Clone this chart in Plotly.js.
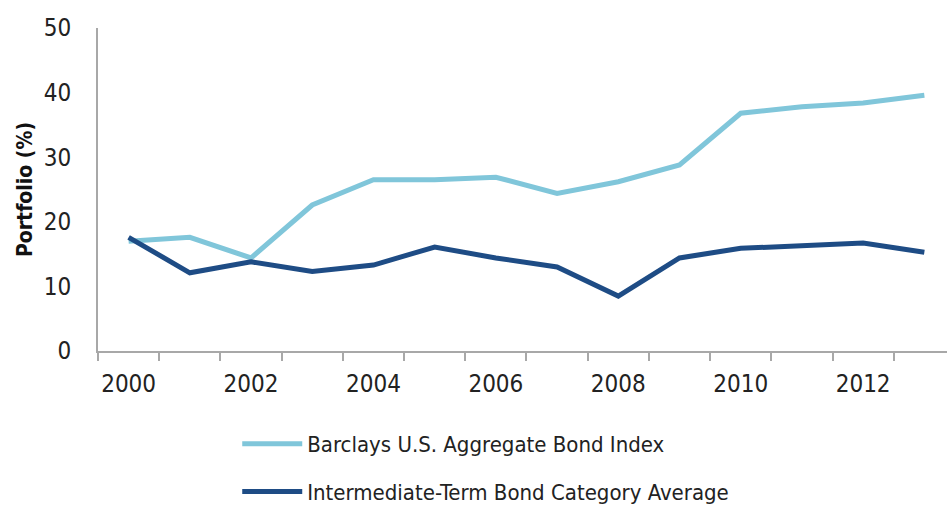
<!DOCTYPE html>
<html>
<head>
<meta charset="utf-8">
<script src="https://cdn.plot.ly/plotly-3.0.1.min.js"></script>
<style>html,body{margin:0;padding:0;background:#fff;}#chart{width:947px;height:506px;}</style>
</head>
<body>
<div id="chart"></div>
<script>
const years = [2000,2001,2002,2003,2004,2005,2006,2007,2008,2009,2010,2011,2012,2013];
const barclays = [17.0,17.6,14.4,22.6,26.5,26.5,26.9,24.4,26.2,28.8,36.8,37.8,38.4,39.6];
const intermediate = [17.6,12.1,13.8,12.3,13.3,16.1,14.4,13.0,8.5,14.4,15.9,16.3,16.7,15.3];
const tickYears = [2000,2002,2004,2006,2008,2010,2012];
const tickLabels = ["2000","2002","2004","2006","2008","2010","2012"];
const seriesNames = ["Barclays U.S. Aggregate Bond Index","Intermediate-Term Bond Category Average"];

const FONT = "'DejaVu Sans Condensed', 'Liberation Sans Narrow', sans-serif";
const traces = [
  {x: years, y: barclays, name: seriesNames[0], type: 'scatter', mode: 'lines',
   line: {color: '#80c6da', width: 5}, legendgroup: 'a'},
  {x: years, y: intermediate, name: seriesNames[1], type: 'scatter', mode: 'lines',
   line: {color: '#1e4c85', width: 5}, legendgroup: 'b'}
];
const layout = {
  width: 947, height: 506,
  margin: {l: 98, r: 0, t: 28, b: 155, autoexpand: false},
  paper_bgcolor: '#fff', plot_bgcolor: '#fff',
  font: {family: FONT, size: 24, color: '#222'},
  showlegend: true,
  legend: {x: 0.164, y: -0.223, xanchor: 'left', yanchor: 'top', orientation: 'v',
           itemwidth: 60, tracegroupgap: 16, font: {family: FONT, size: 22, color: '#222'},
           bgcolor: 'rgba(0,0,0,0)'},
  xaxis: {range: [1999.5, 2013.37], tickmode: 'array', tickvals: tickYears, ticktext: tickLabels,
          ticks: '', showgrid: false, zeroline: false, showline: true, linecolor: '#a8a8a8', linewidth: 2,
          ticklabelstandoff: 10,
          tickfont: {family: FONT, size: 24, color: '#222'},
          minor: {tick0: 1999.5, dtick: 1, ticks: 'outside', ticklen: 8, tickcolor: '#a8a8a8', tickwidth: 2, showgrid: false},
          fixedrange: true},
  yaxis: {range: [0, 50], tickvals: [0,10,20,30,40,50], ticks: '', showgrid: false, zeroline: false,
          showline: true, linecolor: '#a8a8a8', linewidth: 2, ticklabelstandoff: 20,
          tickfont: {family: FONT, size: 24, color: '#222'},
          title: {text: 'Portfolio (%)', font: {family: FONT, size: 21, color: '#111', weight: 'bold'}, standoff: 5},
          fixedrange: true}
};
Plotly.newPlot('chart', traces, layout, {displayModeBar: false, staticPlot: true});
</script>
</body>
</html>
